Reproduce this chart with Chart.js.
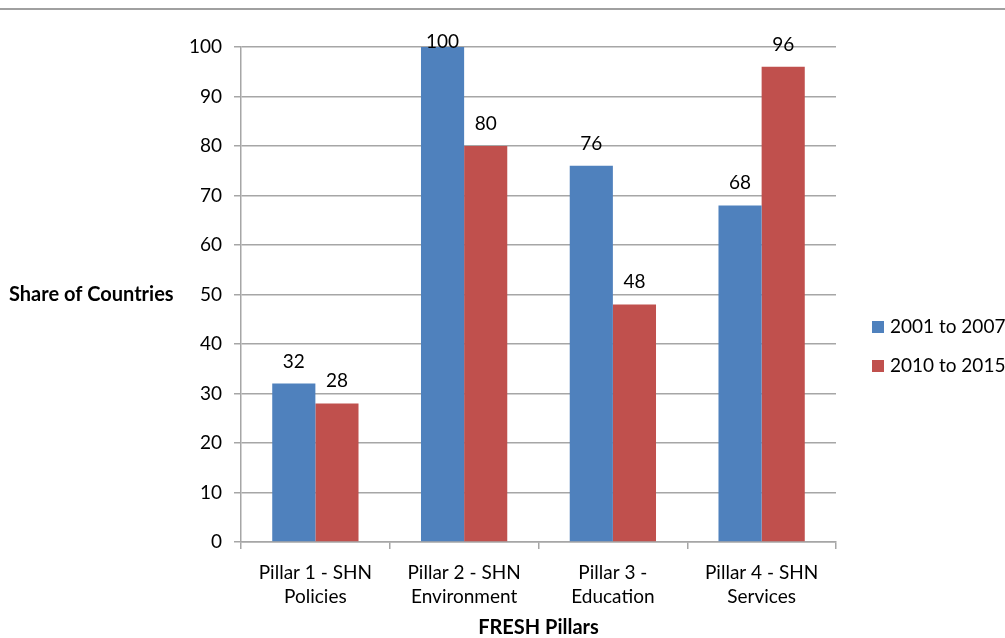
<!DOCTYPE html>
<html><head><meta charset="utf-8">
<script src="https://cdn.jsdelivr.net/npm/chart.js@4.4.0/dist/chart.umd.min.js"></script>
<style>html,body{margin:0;padding:0;background:#fff;}#wrap{width:1005px;height:638px;position:relative;}</style>
</head><body><div id="wrap"><canvas id="c" width="1005" height="638"></canvas></div>
<script>
const categories = [["Pillar 1 - SHN","Policies"],["Pillar 2 - SHN","Environment"],["Pillar 3 -","Education"],["Pillar 4 - SHN","Services"]];
const series1Label = "2001 to 2007";
const series1 = [32, 100, 76, 68];
const series2Label = "2010 to 2015";
const series2 = [28, 80, 48, 96];
const yTicks = [0,10,20,30,40,50,60,70,80,90,100];
const yTitle = "Share of Countries";
const xTitle = "FRESH Pillars";

const FONT = "Lato, 'Open Sans', sans-serif";
const FS = 19;
const GRID = "#a6a6a6";

const extras = {
  id: 'extras',
  afterDraw(chart) {
    const ctx = chart.ctx, ca = chart.chartArea;
    ctx.save();
    // top rule
    ctx.strokeStyle = '#a0a0a0'; ctx.lineWidth = 2;
    ctx.beginPath(); ctx.moveTo(0, 9); ctx.lineTo(1005, 9); ctx.stroke();
    // data labels
    ctx.fillStyle = '#000'; ctx.font = FS + 'px ' + FONT;
    ctx.textAlign = 'center'; ctx.textBaseline = 'alphabetic';
    chart.data.datasets.forEach((ds, i) => {
      chart.getDatasetMeta(i).data.forEach((bar, j) => {
        const yb = Math.max(bar.y - 16, ca.top + 1);
        ctx.fillText(String(ds.data[j]), bar.x, yb);
      });
    });
    // y title (horizontal)
    ctx.font = 'bold 20px ' + FONT; ctx.textAlign = 'left'; ctx.textBaseline = 'middle';
    ctx.fillText(yTitle, 9, chart.scales.y.getPixelForValue(50));
    // x title
    ctx.textAlign = 'center';
    ctx.fillText(xTitle, (ca.left + ca.right) / 2, 628);
    // legend
    ctx.font = FS + 'px ' + FONT; ctx.textAlign = 'left';
    chart.data.datasets.forEach((ds, i) => {
      const y = 327 + i * 39;
      ctx.fillStyle = ds.backgroundColor;
      ctx.fillRect(872, y - 6, 12, 12);
      ctx.fillStyle = '#000';
      ctx.fillText(ds.label, 890, y);
    });
    ctx.restore();
  }
};

new Chart(document.getElementById('c'), {
  type: 'bar',
  data: {
    labels: categories,
    datasets: [
      { label: series1Label, data: series1, backgroundColor: '#4F81BD', categoryPercentage: 0.58, barPercentage: 1.0 },
      { label: series2Label, data: series2, backgroundColor: '#C0504D', categoryPercentage: 0.58, barPercentage: 1.0 }
    ]
  },
  options: {
    responsive: false, animation: false,
    layout: { padding: { left: 0, right: 169, top: 47, bottom: 0 } },
    plugins: { legend: { display: false }, tooltip: { enabled: false } },
    scales: {
      x: {
        grid: { offset: true, drawOnChartArea: false, drawTicks: true, tickLength: 7, color: GRID, lineWidth: 1.5 },
        border: { color: GRID, width: 1.5 },
        ticks: { color: '#000', font: { family: FONT, size: FS, lineHeight: 1.25 }, padding: 12, maxRotation: 0 },
        afterFit(s) { s.height = 96; }
      },
      y: {
        min: 0, max: 100,
        afterBuildTicks(s) { s.ticks = yTicks.map(v => ({ value: v })); },
        grid: { color: GRID, lineWidth: 1.5, tickLength: 7 },
        border: { color: GRID, width: 1.5 },
        ticks: { color: '#000', font: { family: FONT, size: FS }, padding: 12 },
        afterFit(s) { s.width = 241; }
      }
    }
  },
  plugins: [extras]
});
</script></body></html>
